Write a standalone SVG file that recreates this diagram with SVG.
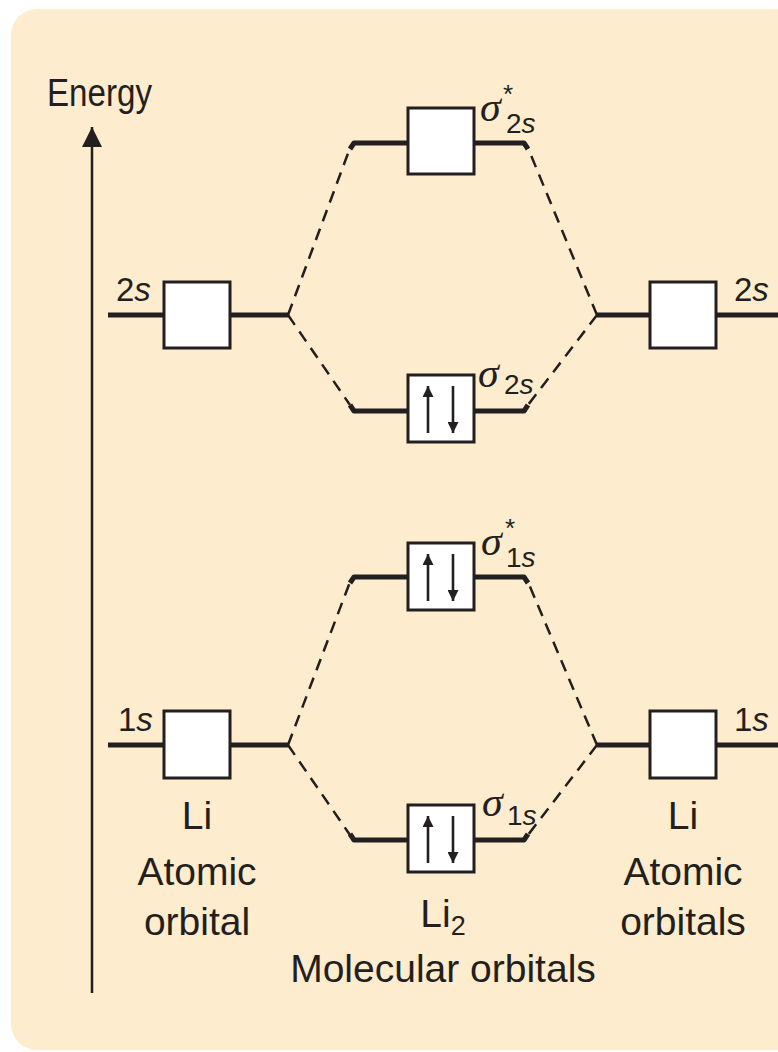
<svg xmlns="http://www.w3.org/2000/svg" width="778" height="1052" viewBox="0 0 778 1052">
  <defs>
    <style>
      .bg{fill:#fdeccd}
      .lvl{fill:none;stroke:#231f20;stroke-width:5;stroke-linejoin:round;stroke-linecap:butt}
      .box{fill:#fff;stroke:#231f20;stroke-width:3}
      .dash{fill:none;stroke:#231f20;stroke-width:2.5;stroke-dasharray:12 8}
      .spin{stroke:#231f20;stroke-width:2.6;fill:none}
      .axis{stroke:#231f20;stroke-width:2.5;fill:none}
      text{font-family:"Liberation Sans",Arial,sans-serif;fill:#231f20}
      .lbl{font-size:39px;text-anchor:middle}
      .orb{font-size:33px}
      .sig{font-family:"Liberation Serif","Times New Roman",serif;font-style:italic;font-size:42px}
      .sub{font-size:28px}
      .star{font-size:26px}
      .it{font-style:italic}
    </style>
    <marker id="spinHead" viewBox="0 0 10 10" refX="10" refY="5" markerWidth="14" markerHeight="11" markerUnits="userSpaceOnUse" orient="auto">
      <path d="M0,0 L10,5 L0,10 z" fill="#231f20"/>
    </marker>
    <marker id="axisHead" viewBox="0 0 10 10" refX="10" refY="5" markerWidth="26" markerHeight="20" markerUnits="userSpaceOnUse" orient="auto">
      <path d="M0,0 L10,5 L0,10 z" fill="#231f20"/>
    </marker>
    <!-- paired electrons: up spin on the left, down spin on the right -->
    <g id="pair">
      <line class="spin" x1="20" y1="58" x2="20" y2="11" marker-end="url(#spinHead)"/>
      <line class="spin" x1="45" y1="11" x2="45" y2="58" marker-end="url(#spinHead)"/>
    </g>
  </defs>

  <!-- panel -->
  <rect class="bg" x="11" y="9" width="790" height="1041" rx="26" ry="26"/>

  <!-- energy axis -->
  <g id="energy-axis">
    <line class="axis" x1="92" y1="993" x2="92" y2="127" marker-end="url(#axisHead)"/>
    <text x="47" y="106" font-size="39" textLength="105" lengthAdjust="spacingAndGlyphs">Energy</text>
  </g>

  <!-- correlation lines -->
  <g id="connectors">
    <line class="dash" x1="288" y1="315" x2="350" y2="148"/>
    <line class="dash" x1="288" y1="315" x2="350" y2="405"/>
    <line class="dash" x1="597" y1="315" x2="528" y2="148"/>
    <line class="dash" x1="597" y1="315" x2="528" y2="405"/>
    <line class="dash" x1="288" y1="745" x2="350" y2="582"/>
    <line class="dash" x1="288" y1="745" x2="350" y2="835"/>
    <line class="dash" x1="597" y1="745" x2="528" y2="582"/>
    <line class="dash" x1="597" y1="745" x2="528" y2="835"/>
  </g>

  <!-- Li 2s (left) -->
  <g id="li-left-2s">
    <path class="lvl" d="M108,315 L288,315"/>
    <rect class="box" x="164" y="282" width="66" height="66"/>
    <text class="orb" x="116" y="301">2<tspan class="it">s</tspan></text>
  </g>

  <!-- Li 2s (right) -->
  <g id="li-right-2s">
    <path class="lvl" d="M597,315 L778,315"/>
    <rect class="box" x="650" y="282" width="66" height="66"/>
    <text class="orb" x="734" y="301">2<tspan class="it">s</tspan></text>
  </g>

  <!-- sigma* 2s -->
  <g id="mo-sigma-star-2s">
    <path class="lvl" d="M350,149 L354,143 L524,143 L528,149"/>
    <rect class="box" x="408" y="108" width="66" height="66"/>
    <text class="sig" x="480" y="121">σ</text>
    <text class="sub" x="506" y="133">2<tspan class="it">s</tspan></text>
    <text class="star" x="503" y="103">*</text>
  </g>

  <!-- sigma 2s -->
  <g id="mo-sigma-2s">
    <path class="lvl" d="M350,405 L354,411 L524,411 L528,405"/>
    <rect class="box" x="408" y="375" width="66" height="67"/>
    <use href="#pair" x="408" y="375"/>
    <text class="sig" x="478" y="387">σ</text>
    <text class="sub" x="504" y="394">2<tspan class="it">s</tspan></text>
  </g>

  <!-- sigma* 1s -->
  <g id="mo-sigma-star-1s">
    <path class="lvl" d="M350,583 L354,577 L524,577 L528,583"/>
    <rect class="box" x="408" y="543" width="66" height="67"/>
    <use href="#pair" x="408" y="543"/>
    <text class="sig" x="481" y="555">σ</text>
    <text class="sub" x="506" y="567">1<tspan class="it">s</tspan></text>
    <text class="star" x="505" y="537">*</text>
  </g>

  <!-- Li 1s (left) -->
  <g id="li-left-1s">
    <path class="lvl" d="M108,745 L288,745"/>
    <rect class="box" x="164" y="711" width="66" height="67"/>
    <text class="orb" x="118" y="731">1<tspan class="it">s</tspan></text>
  </g>

  <!-- Li 1s (right) -->
  <g id="li-right-1s">
    <path class="lvl" d="M597,745 L778,745"/>
    <rect class="box" x="650" y="711" width="66" height="67"/>
    <text class="orb" x="734" y="731">1<tspan class="it">s</tspan></text>
  </g>

  <!-- sigma 1s -->
  <g id="mo-sigma-1s">
    <path class="lvl" d="M350,834 L354,840 L524,840 L528,834"/>
    <rect class="box" x="408" y="805" width="66" height="67"/>
    <use href="#pair" x="408" y="805"/>
    <text class="sig" x="482" y="816">σ</text>
    <text class="sub" x="507" y="825">1<tspan class="it">s</tspan></text>
  </g>

  <!-- column captions -->
  <g id="captions">
    <text class="lbl" x="197" y="829">Li</text>
    <text class="lbl" x="197" y="885">Atomic</text>
    <text class="lbl" x="197" y="935">orbital</text>
    <text class="lbl" x="683" y="829">Li</text>
    <text class="lbl" x="683" y="885">Atomic</text>
    <text class="lbl" x="683" y="935">orbitals</text>
    <text class="lbl" x="443" y="927">Li<tspan font-size="27" dy="8">2</tspan></text>
    <text class="lbl" x="443" y="982">Molecular orbitals</text>
  </g>
</svg>
